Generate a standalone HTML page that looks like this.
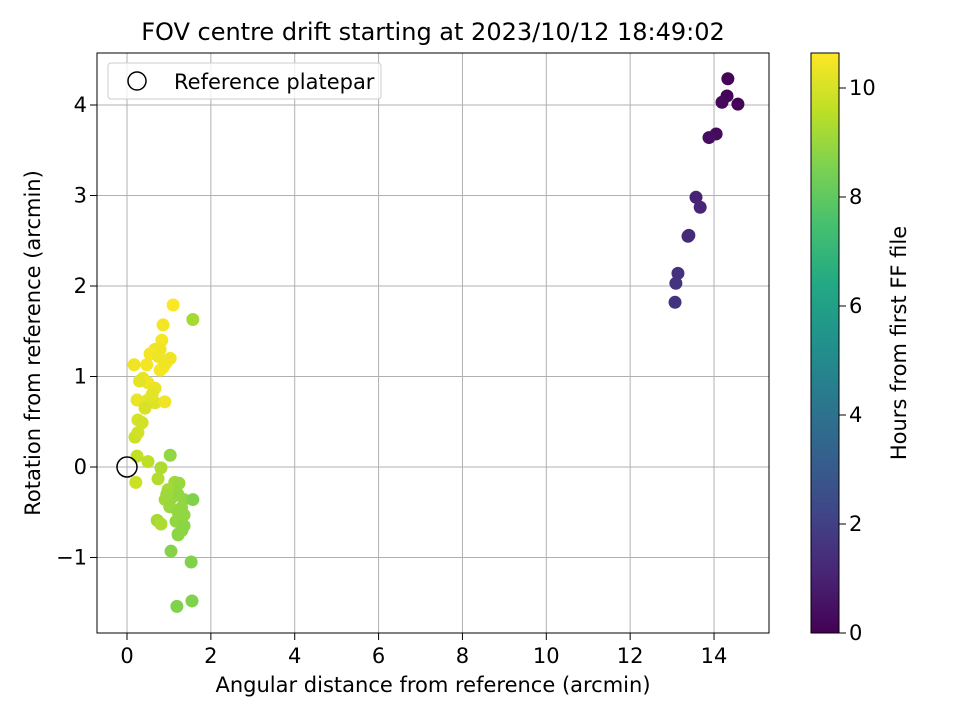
<!DOCTYPE html>
<html><head><meta charset="utf-8"><style>
body{margin:0;background:#fff;}
svg text{font-family:"DejaVu Sans","Liberation Sans",sans-serif;fill:#000;}
</style></head><body>
<svg id="chart" width="960" height="720" viewBox="0 0 960 720" xmlns="http://www.w3.org/2000/svg">
<defs>
<linearGradient id="viridis" x1="0" y1="1" x2="0" y2="0">
<stop offset="0" stop-color="#440154"/><stop offset="0.1" stop-color="#482475"/><stop offset="0.2" stop-color="#414487"/><stop offset="0.3" stop-color="#355f8d"/><stop offset="0.4" stop-color="#2a788e"/><stop offset="0.5" stop-color="#21918c"/><stop offset="0.6" stop-color="#22a884"/><stop offset="0.7" stop-color="#44bf70"/><stop offset="0.8" stop-color="#7ad151"/><stop offset="0.9" stop-color="#bddf26"/><stop offset="1" stop-color="#fde725"/>
</linearGradient>
</defs>
<text x="433" y="40" font-size="24" text-anchor="middle">FOV centre drift starting at 2023/10/12 18:49:02</text>
<g id="grid"></g>
<g id="points"></g>
<rect x="97" y="53" width="672" height="580" fill="none" stroke="#000" stroke-width="1"/>
<g id="xticks"></g><g id="yticks"></g>
<text x="433" y="692" font-size="21" text-anchor="middle">Angular distance from reference (arcmin)</text>
<text transform="translate(40,343) rotate(-90)" font-size="21" text-anchor="middle">Rotation from reference (arcmin)</text>
<g>
<rect x="108" y="63" width="273" height="36" rx="3" fill="#fff" fill-opacity="0.8" stroke="#ccc"/>
<circle cx="137" cy="81" r="9" fill="none" stroke="#000" stroke-width="1.5"/>
<text x="174" y="89" font-size="21">Reference platepar</text>
</g>
<rect x="811" y="53" width="28" height="580" fill="url(#viridis)" stroke="#000" stroke-width="1"/>
<g id="cticks"></g>
<text transform="translate(906,343) rotate(-90)" font-size="21" text-anchor="middle">Hours from first FF file</text>
</svg>
<script>
const xTicks=[0,2,4,6,8,10,12,14];
const yTicks=[-1,0,1,2,3,4];
const cTicks=[0,2,4,6,8,10];
const xs=[14.33,14.31,14.19,14.57,14.05,13.88,13.57,13.67,13.40,13.38,13.14,13.09,13.07,
1.10,0.86,0.83,0.79,0.17,0.47,0.67,0.86,1.03,0.79,0.93,0.38,0.50,0.67,0.24,0.50,0.67,0.90,0.43,0.26,0.36,0.19,0.26,0.60,0.55,0.75,0.30,
0.24,0.50,1.03,0.21,0.81,0.74,1.14,0.98,1.24,0.91,1.07,1.21,1.36,1.02,1.21,1.36,1.17,1.31,1.22,1.36,0.72,0.81,1.22,1.05,1.53,1.19,1.55,1.57,1.57,0.95,1.30];
const ys=[4.29,4.10,4.03,4.01,3.68,3.64,2.98,2.87,2.56,2.55,2.14,2.03,1.82,
1.79,1.57,1.40,1.30,1.13,1.13,1.30,1.10,1.20,1.07,1.15,0.98,0.93,0.87,0.74,0.74,0.71,0.72,0.65,0.52,0.49,0.33,0.38,0.80,1.25,1.22,0.95,
0.12,0.06,0.13,-0.17,-0.01,-0.13,-0.17,-0.25,-0.18,-0.36,-0.34,-0.30,-0.36,-0.44,-0.49,-0.53,-0.60,-0.70,-0.74,-0.65,-0.59,-0.63,-0.75,-0.93,-1.05,-1.54,-1.48,-0.36,1.63,-0.30,-0.45];
const ts=[0.1,0.1,0.2,0.1,0.3,0.4,1.0,1.1,1.3,1.3,1.5,1.6,1.6,
10.6,10.5,10.5,10.4,10.4,10.5,10.4,10.5,10.4,10.5,10.4,10.3,10.4,10.3,10.3,10.2,10.1,10.4,10.0,10.0,9.9,9.8,9.9,10.2,10.5,10.4,10.2,
9.7,9.6,8.9,9.8,9.3,9.4,9.1,9.2,9.0,9.1,9.0,8.9,8.9,9.0,8.9,8.9,8.9,8.8,8.8,8.8,9.2,9.3,8.8,8.7,8.6,8.6,8.6,8.6,9.2,9.1,8.9];
const X=v=>127+v*41.93, Y=v=>467-v*90.5, C=v=>633-v*54.5;
const stops=["#440154","#482475","#414487","#355f8d","#2a788e","#21918c","#22a884","#44bf70","#7ad151","#bddf26","#fde725"];
function hex(h){return [1,3,5].map(i=>parseInt(h.substr(i,2),16));}
function col(t){let f=Math.max(0,Math.min(1,t/10.64))*(stops.length-1);let i=Math.min(stops.length-2,Math.floor(f));let a=hex(stops[i]),b=hex(stops[i+1]),u=f-i;
return "rgb("+a.map((v,k)=>Math.round(v+(b[k]-v)*u)).join(",")+")";}
const NS="http://www.w3.org/2000/svg";
function mk(p,tag,attrs){const e=document.createElementNS(NS,tag);for(const k in attrs)e.setAttribute(k,attrs[k]);p.appendChild(e);return e;}
const grid=document.getElementById('grid'),xt=document.getElementById('xticks'),yt=document.getElementById('yticks'),ct=document.getElementById('cticks'),pts=document.getElementById('points');
xTicks.forEach(v=>{
 const g=mk(grid,'line',{x1:X(v),x2:X(v),y1:53,y2:633,stroke:'#b0b0b0','stroke-width':1});
 
 
 const t=mk(xt,'line',{x1:X(v),x2:X(v),y1:633,y2:640,stroke:'#000'});
 
 
 const l=mk(xt,'text',{x:X(v),y:663,'font-size':21,'text-anchor':'middle'});l.textContent=v;
 
 
});
yTicks.forEach(v=>{
 const g=mk(grid,'line',{x1:97,x2:769,y1:Y(v),y2:Y(v),stroke:'#b0b0b0','stroke-width':1});
 
 
 const t=mk(yt,'line',{x1:90,x2:97,y1:Y(v),y2:Y(v),stroke:'#000'});
 
 
 const l=mk(yt,'text',{x:87,y:Y(v)+7,'font-size':21,'text-anchor':'end'});l.textContent=v<0?'\u2212'+(-v):v;
 
 
});
cTicks.forEach(v=>{
 const t=mk(ct,'line',{x1:839,x2:846,y1:C(v),y2:C(v),stroke:'#000'});
 
 
 const l=mk(ct,'text',{x:849,y:C(v)+7,'font-size':21});l.textContent=v;
 
 
});
xs.forEach((v,i)=>{
 const c=mk(pts,'circle',{cx:X(v),cy:Y(ys[i]),r:6.5,fill:col(ts[i])});
 
 
});
const ref=mk(pts,'circle',{cx:X(0),cy:Y(0),r:10,fill:'none',stroke:'#000','stroke-width':1.5});


</script>
</body></html>
